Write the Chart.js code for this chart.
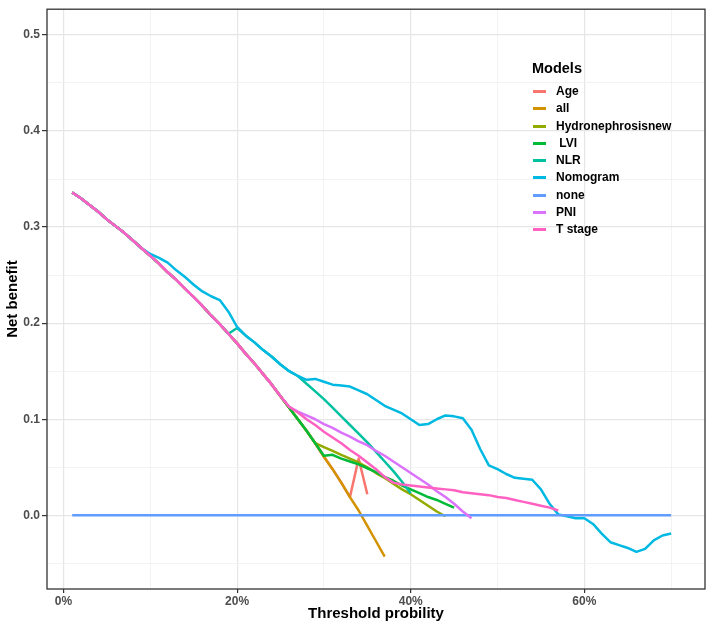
<!DOCTYPE html>
<html>
<head>
<meta charset="utf-8">
<title>Decision curves</title>
<script src="https://cdn.jsdelivr.net/npm/chart.js@4.4.1/dist/chart.umd.min.js"></script>
<style>
  html, body { margin: 0; padding: 0; background: #fff; }
  #wrap { position: relative; width: 709px; height: 626px; font-family: "Liberation Sans", Arial, sans-serif; }
  #legend { position: absolute; left: 532px; top: 59px; color: #000; }
  #legend .title { font-weight: bold; font-size: 14.5px; line-height: 18px; height: 24px; }
  #legend .item { position: relative; height: 17px; line-height: 17px; font-weight: bold; font-size: 12px; white-space: pre; padding-left: 24px; margin-bottom: 0.3px; }
  #legend .key { position: absolute; left: 1px; top: 7px; width: 13px; height: 3px; }
</style>
</head>
<body>
<div id="wrap">
  <canvas id="dcaChart" width="709" height="626"></canvas>
  <div id="legend"></div>
</div>
<script>
// threshold probabilities used for every curve
const thresholds = [
  0.01, 0.02, 0.03, 0.04, 0.05, 0.06, 0.07, 0.08, 0.09, 0.10,
  0.11, 0.12, 0.13, 0.14, 0.15, 0.16, 0.17, 0.18, 0.19, 0.20,
  0.21, 0.22, 0.23, 0.24, 0.25, 0.26, 0.27, 0.28, 0.29, 0.30,
  0.31, 0.32, 0.33, 0.34, 0.35, 0.36, 0.37, 0.38, 0.39, 0.40,
  0.41, 0.42, 0.43, 0.44, 0.45, 0.46, 0.47, 0.48, 0.49, 0.50,
  0.51, 0.52, 0.53, 0.54, 0.55, 0.56, 0.57, 0.58, 0.59, 0.60,
  0.61, 0.62, 0.63, 0.64, 0.65, 0.66, 0.67, 0.68, 0.69, 0.70
];

const modelNames = ["Age", "all", "Hydronephrosisnew", " LVI", "NLR", "Nomogram", "none", "PNI", "T stage"];

// net benefit (models follow "all" at low thresholds)
const allNB = [
  0.336, 0.330, 0.323, 0.316, 0.308, 0.301, 0.294, 0.286, 0.278, 0.270,
  0.262, 0.253, 0.245, 0.236, 0.227, 0.218, 0.208, 0.199, 0.189, 0.179,
  0.168, 0.158, 0.147, 0.136, 0.124, 0.112, 0.100, 0.088, 0.075, 0.061,
  0.048, 0.034, 0.019, 0.005, -0.011, -0.027, -0.043
];
const ageNB = [...allNB.slice(0, 33), 0.059, 0.022];
const hydroNB = [...allNB.slice(0, 29),
  0.071, 0.067, 0.063, 0.059, 0.055, 0.050, 0.044, 0.039, 0.033, 0.027,
  0.022, 0.016, 0.010, 0.004, -0.001];
const lviNB = [...allNB.slice(0, 29),
  0.062, 0.063, 0.059, 0.056, 0.053, 0.049, 0.045, 0.040, 0.036, 0.031,
  0.027, 0.023, 0.019, 0.016, 0.012, 0.008];
const nlrNB = [...allNB.slice(0, 19),
  0.195, 0.187, 0.180, 0.172, 0.165, 0.157, 0.150, 0.145, 0.137, 0.129,
  0.121, 0.112, 0.103, 0.094, 0.085, 0.076, 0.066, 0.056, 0.046, 0.035, 0.023];
const nomogramNB = [...allNB.slice(0, 9),
  0.272, 0.268, 0.263, 0.255, 0.248, 0.240, 0.233, 0.228, 0.224, 0.212,
  0.196, 0.187, 0.180, 0.172, 0.165, 0.157, 0.150, 0.145, 0.141, 0.142,
  0.139, 0.136, 0.135, 0.134, 0.130, 0.126, 0.120, 0.114, 0.110, 0.106,
  0.100, 0.094, 0.095, 0.100, 0.104, 0.103, 0.101, 0.089, 0.069, 0.052,
  0.048, 0.043, 0.039, 0.038, 0.037, 0.027, 0.012, 0.001, -0.001, -0.003,
  -0.003, -0.009, -0.019, -0.028, -0.031, -0.034, -0.038, -0.035, -0.026, -0.021,
  -0.019];
const noneX = [0.01, 0.70];
const noneNB = [0, 0];
const pniNB = [...allNB.slice(0, 25),
  0.113, 0.108, 0.104, 0.100, 0.095, 0.091, 0.086, 0.082, 0.077, 0.073,
  0.067, 0.062, 0.056, 0.050, 0.044, 0.038, 0.032, 0.025, 0.019, 0.012,
  0.004, -0.003];
const tStageNB = [...allNB.slice(0, 25),
  0.113, 0.107, 0.100, 0.094, 0.087, 0.081, 0.075, 0.068, 0.062, 0.055,
  0.048, 0.040, 0.034, 0.032, 0.031, 0.030, 0.029, 0.028, 0.027, 0.026,
  0.024, 0.023, 0.022, 0.021, 0.019, 0.018, 0.016, 0.014, 0.012, 0.010,
  0.008, 0.005];

// axis ticks
const xGrid = [0, 0.1, 0.2, 0.3, 0.4, 0.5, 0.6, 0.7];
const xMajor = [0, 0.2, 0.4, 0.6];
const xTickLabels = ["0%", "20%", "40%", "60%"];
const yGrid = [-0.05, 0, 0.05, 0.1, 0.15, 0.2, 0.25, 0.3, 0.35, 0.4, 0.45, 0.5];
const yMajor = [0, 0.1, 0.2, 0.3, 0.4, 0.5];
const yTickLabels = ["0.0", "0.1", "0.2", "0.3", "0.4", "0.5"];

const palette = ["#F8766D", "#D39200", "#93AA00", "#00BA38", "#00C19F", "#00B9E3", "#619CFF", "#DB72FB", "#FF61C3"];

function majorIndex(list, v) {
  return list.findIndex(m => Math.abs(m - v) < 1e-9);
}
function toPoints(values, xs) {
  return values.map((v, i) => ({ x: xs[i], y: v }));
}

const series = [
  toPoints(ageNB, thresholds),
  toPoints(allNB, thresholds),
  toPoints(hydroNB, thresholds),
  toPoints(lviNB, thresholds),
  toPoints(nlrNB, thresholds),
  toPoints(nomogramNB, thresholds),
  toPoints(noneNB, noneX),
  toPoints(pniNB, thresholds),
  toPoints(tStageNB, thresholds)
];

// later models drawn on top, like ggplot
const datasets = series.map((pts, i) => ({
  label: modelNames[i],
  data: pts,
  borderColor: palette[i],
  borderWidth: 2.5,
  borderJoinStyle: "round",
  pointRadius: 0,
  tension: 0,
  fill: false,
  order: series.length - i
}));

const panelBorder = {
  id: "panelBorder",
  afterDraw(chart) {
    const { ctx, chartArea: a } = chart;
    ctx.save();
    ctx.strokeStyle = "#333333";
    ctx.lineWidth = 1.3;
    ctx.strokeRect(a.left, a.top, a.right - a.left, a.bottom - a.top);
    ctx.restore();
  }
};

Chart.defaults.font.family = '"Liberation Sans", Arial, sans-serif';

new Chart(document.getElementById("dcaChart").getContext("2d"), {
  type: "line",
  data: { datasets: datasets },
  options: {
    responsive: false,
    animation: false,
    layout: { padding: { top: 3, right: 4, left: 0, bottom: 0 } },
    plugins: { legend: { display: false }, tooltip: { enabled: false } },
    scales: {
      x: {
        type: "linear",
        min: -0.019,
        max: 0.739,
        afterBuildTicks: s => { s.ticks = xGrid.map(v => ({ value: v })); },
        afterFit: s => { s.height = 37; },
        border: { display: false },
        grid: {
          color: c => majorIndex(xMajor, c.tick.value) >= 0 ? "#e6e6e6" : "#f0f0f0",
          lineWidth: c => majorIndex(xMajor, c.tick.value) >= 0 ? 1.2 : 0.8,
          tickColor: c => majorIndex(xMajor, c.tick.value) >= 0 ? "#333333" : "rgba(0,0,0,0)",
          tickWidth: 1.2,
          tickLength: 4
        },
        ticks: {
          autoSkip: false,
          maxRotation: 0,
          padding: 1,
          color: "#4d4d4d",
          font: { size: 12, weight: "bold" },
          callback: v => {
            const k = majorIndex(xMajor, v);
            return k >= 0 ? xTickLabels[k] : "";
          }
        },
        title: {
          display: true,
          text: "Threshold probility",
          color: "#000",
          font: { size: 15, weight: "bold" },
          padding: { top: 0, bottom: 3 }
        }
      },
      y: {
        type: "linear",
        min: -0.0767,
        max: 0.5268,
        afterBuildTicks: s => { s.ticks = yGrid.map(v => ({ value: v })); },
        afterFit: s => { s.width = 47; },
        border: { display: false },
        grid: {
          color: c => majorIndex(yMajor, c.tick.value) >= 0 ? "#e6e6e6" : "#f0f0f0",
          lineWidth: c => majorIndex(yMajor, c.tick.value) >= 0 ? 1.2 : 0.8,
          tickColor: c => majorIndex(yMajor, c.tick.value) >= 0 ? "#333333" : "rgba(0,0,0,0)",
          tickWidth: 1.2,
          tickLength: 5
        },
        ticks: {
          autoSkip: false,
          padding: 2,
          color: "#4d4d4d",
          font: { size: 12, weight: "bold" },
          callback: v => {
            const k = majorIndex(yMajor, v);
            return k >= 0 ? yTickLabels[k] : "";
          }
        },
        title: {
          display: true,
          text: "Net benefit",
          color: "#000",
          font: { size: 15, weight: "bold" },
          padding: { top: 4, bottom: 0 }
        }
      }
    }
  },
  plugins: [panelBorder]
});

// legend box inside the panel
const legend = document.getElementById("legend");
legend.innerHTML = '<div class="title">Models</div>' + modelNames.map((name, i) =>
  '<div class="item"><span class="key" style="background:' + palette[i] + '"></span>' + name + '</div>'
).join("");
</script>
</body>
</html>
